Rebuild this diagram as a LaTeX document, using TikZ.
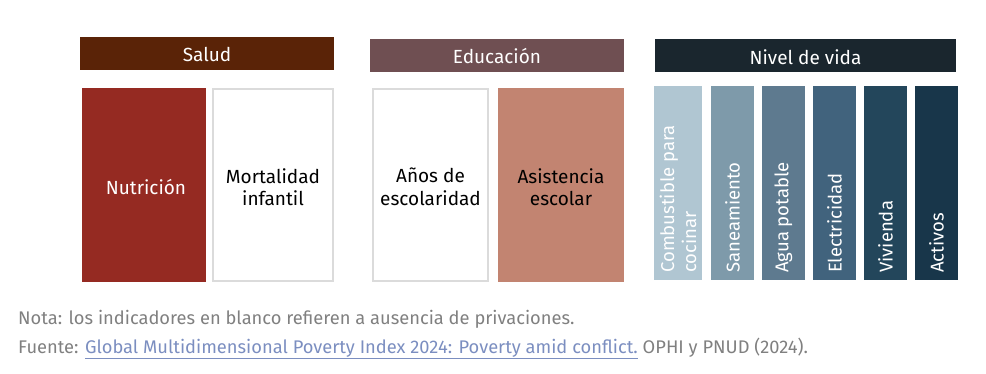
\documentclass[tikz,border=0pt]{standalone}
\usepackage{fontspec}
\setmainfont{Fira Sans}
\begin{document}
\begin{tikzpicture}[x=1pt,y=-1pt,
  hdr/.style={inner sep=0pt,text=white,font=\fontsize{19}{22}\selectfont},
  ind/.style={inner sep=0pt,align=center,font=\fontsize{19}{22.5}\selectfont},
  wbox/.style={draw=black!14,line width=1.6pt,fill=white},
  vtxt/.style={rotate=90,anchor=west,inner sep=0pt,text=white,align=left,font=\fontsize{18.5}{22}\selectfont},
  note/.style={anchor=base west,inner sep=0pt,text=black!50,font=\fontsize{18.3}{22}\selectfont}]
\definecolor{cSal}{HTML}{5A2307}
\definecolor{cEdu}{HTML}{6F4F52}
\definecolor{cNiv}{HTML}{1A262E}
\definecolor{cNut}{HTML}{952A22}
\definecolor{cAsi}{HTML}{C28471}
\definecolor{v1}{HTML}{B0C6D2}
\definecolor{v2}{HTML}{7E9AAA}
\definecolor{v3}{HTML}{5E7A8F}
\definecolor{v4}{HTML}{41637D}
\definecolor{v5}{HTML}{23465B}
\definecolor{v6}{HTML}{18364A}
\definecolor{clink}{HTML}{7B8EC0}
\useasboundingbox (0,0) rectangle (986,374);
% headers
\fill[cSal] (80,37) rectangle (334,70);
\node[hdr] (hSal) at (207,54) {Salud};
\fill[cEdu] (370,39) rectangle (624,72);
\node[hdr] (hEdu) at (497,56) {Educación};
\fill[cNiv] (655,39) rectangle (956,72);
\node[hdr] (hNiv) at (805.5,57) {Nivel de vida};
% Salud
\fill[cNut] (82,88) rectangle (206,282);
\node[ind,text=white] (nut) at (146,187) {Nutrición};
\draw[wbox] (213,89) rectangle (333,281);
\node[ind] (mor) at (273,187) {Mortalidad\\infantil};
% Educacion
\draw[wbox] (373,89) rectangle (488,281);
\node[ind] (anos) at (430.5,187) {Años de\\escolaridad};
\fill[cAsi] (498,88) rectangle (624,282);
\node[ind] (asi) at (561,187) {Asistencia\\escolar};
% Nivel de vida
\fill[v1] (654,86) rectangle (702,280);
\fill[v2] (711,86) rectangle (754,280);
\fill[v3] (762,86) rectangle (805,280);
\fill[v4] (813,86) rectangle (856,280);
\fill[v5] (864,86) rectangle (907,280);
\fill[v6] (915,86) rectangle (958,280);
\node[vtxt] (comb) at (678,273) {Combustible para\\cocinar};
\node[vtxt] (san) at (732.5,273) {Saneamiento};
\node[vtxt] (agu) at (783.5,273) {Agua potable};
\node[vtxt] (ele) at (834.5,273) {Electricidad};
\node[vtxt] (viv) at (885.5,273) {Vivienda};
\node[vtxt] (act) at (936.5,273) {Activos};
% notes
\node[note] (nota) at (18,325) {Nota: los indicadores en blanco refieren a ausencia de privaciones.};
\node[note] (fuente) at (18,353) {Fuente: {\color{clink}\underline{Global Multidimensional Poverty Index 2024: Poverty amid conflict.}} OPHI y PNUD (2024).};
\end{tikzpicture}
\end{document}
